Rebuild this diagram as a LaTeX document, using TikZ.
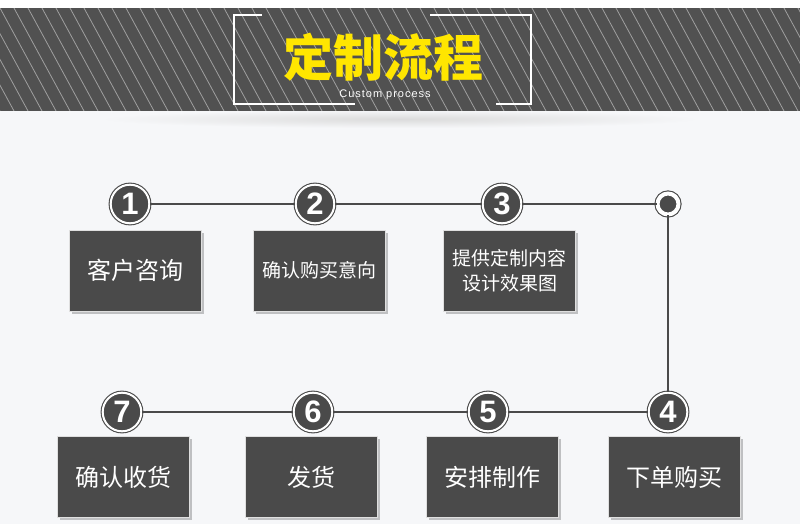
\documentclass[tikz,border=0pt]{standalone}
\usepackage{fontspec}
\setmainfont{Noto Sans CJK SC}
\newfontfamily\numfont{Liberation Sans}
\newfontfamily\latfont{Liberation Sans}
\usepackage{xcolor}
\usepackage{tikz}
\usetikzlibrary{shadows}
\definecolor{pagebg}{HTML}{F6F7F9}
\definecolor{bandgray}{HTML}{515151}
\definecolor{stepgray}{HTML}{4A4A4A}
\definecolor{titleyellow}{HTML}{FFE600}
\tikzset{
  stepnum/.style={circle, fill=stepgray, draw=stepgray, double=white,
                  double distance=2pt, line width=1.1pt, inner sep=0pt,
                  minimum size=38.6pt, text=white,
                  font=\numfont\bfseries\fontsize{31}{31}\selectfont},
  enddot/.style={circle, fill=stepgray, draw=stepgray, double=white,
                 double distance=4pt, line width=1.1pt, inner sep=0pt,
                 minimum size=21pt},
  stepbox/.style={rectangle, fill=stepgray, draw=white!75!gray, line width=0.6pt,
                  minimum width=132pt, minimum height=81pt, inner sep=2pt,
                  text=white, align=center,
                  drop shadow={shadow xshift=2.5pt, shadow yshift=-2.5pt,
                               fill=black, opacity=0.22}},
  flowline/.style={stepgray, line width=2pt},
  stripe/.style={white, opacity=0.45, line width=0.8pt},
  framebar/.style={white, line width=1.6pt},
}

\begin{document}
\begin{tikzpicture}[x=1pt, y=-1pt]

%% Row / column positions (pixels of the banner layout)
\def\yA{204}   % top row of steps
\def\yB{412}   % bottom row of steps
\def\xEnd{668} % turning point on the right

\useasboundingbox (0,0) rectangle (800,524);

%% Page and header band
\fill[pagebg] (0,0) rectangle (800,524);
\fill[white] (0,0) rectangle (800,8);
\shade[inner color=black!14, outer color=pagebg] (400,119) ellipse (300 and 9);
\fill[bandgray] (0,8) rectangle (800,111);
\begin{scope}
  \clip (0,8) rectangle (800,111);
  \foreach \x in {-70,-56,...,800}
    \draw[stripe] (\x,8) -- ++(56,103);
\end{scope}

%% Title frame (open brackets)
\draw[framebar] (262,15) -- (234,15) -- (234,104) -- (355,104);
\draw[framebar] (430,15) -- (531,15) -- (531,104) -- (496,104);

\node[font=\bfseries\fontsize{50}{50}\selectfont, text=titleyellow]
     (title) at (383,57) {定制流程};
\node[font=\latfont\fontsize{11}{11}\selectfont\addfontfeatures{LetterSpace=9}, text=white]
     (subtitle) at (385,95) {Custom process};

%% ── Step markers ────────────────────────────────────────────────────────
\node[stepnum] (c1) at (130,\yA) {1};
\node[stepnum] (c2) at (315,\yA) {2};
\node[stepnum] (c3) at (502,\yA) {3};
\node[enddot]  (dot) at (\xEnd,\yA) {};
\node[stepnum] (c4) at (\xEnd,\yB) {4};
\node[stepnum] (c5) at (488,\yB) {5};
\node[stepnum] (c6) at (313,\yB) {6};
\node[stepnum] (c7) at (122,\yB) {7};

%% Connecting line
\draw[flowline] (c1) -- (c2) -- (c3) -- (dot) -- (c4) -- (c5) -- (c6) -- (c7);

%% ── Step boxes ──────────────────────────────────────────────────────────
\node[stepbox, font=\fontsize{24}{24}\selectfont] (b1) at (135,270.5) {客户咨询};
\node[stepbox, font=\fontsize{19}{19}\selectfont] (b2) at (319.5,270.5) {确认购买意向};
\node[stepbox, font=\fontsize{19}{25}\selectfont] (b3) at (509.5,270.5)
     {提供定制内容\\设计效果图};
\node[stepbox, font=\fontsize{24}{24}\selectfont] (b4) at (674.5,477) {下单购买};
\node[stepbox, font=\fontsize{24}{24}\selectfont] (b5) at (492.5,477) {安排制作};
\node[stepbox, font=\fontsize{24}{24}\selectfont] (b6) at (311,477) {发货};
\node[stepbox, font=\fontsize{24}{24}\selectfont] (b7) at (123,477) {确认收货};

\end{tikzpicture}
\end{document}
